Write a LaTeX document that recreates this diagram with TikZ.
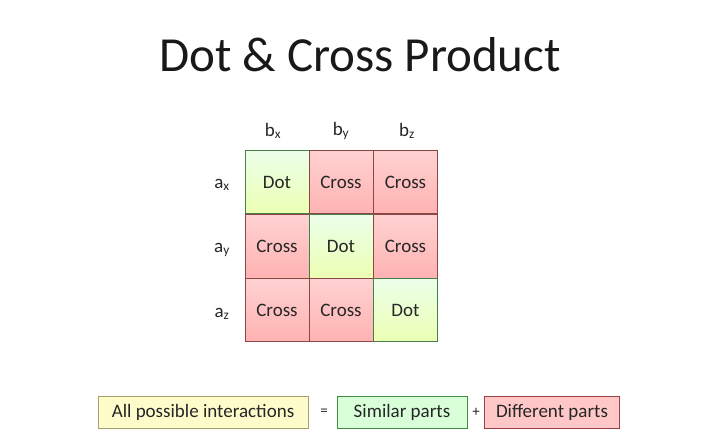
\documentclass[tikz,border=0pt]{standalone}
\usepackage{fontspec}
\setmainfont{Carlito}
\begin{document}
\begin{tikzpicture}[x=1pt,y=-1pt,
  cell/.style={draw=#1!45!gray,line width=0.8pt,minimum width=64pt,minimum height=63.5pt,font=\fontsize{19}{22}\selectfont,inner sep=0pt,text=black!85},
  gcell/.style={cell=green!50!black,top color=green!8!white,bottom color=green!25!yellow!30!white},
  rcell/.style={cell=red!60!black,top color=red!18!white,bottom color=red!30!white},
  lab/.style={font=\fontsize{19}{22}\selectfont,text=black!85},
  box/.style={draw=#1!50!gray,line width=0.6pt,minimum height=32pt,inner xsep=7pt,font=\fontsize{19}{22}\selectfont,text=black!85}]
\useasboundingbox (0,0) rectangle (720,434);
\node[font=\fontsize{49}{54}\selectfont,text=black!90] (title) at (360,55) {Dot \& Cross Product};
\node[gcell] (c11) at (277,182) {Dot};
\node[rcell] (c12) at (341,182) {Cross};
\node[rcell] (c13) at (405.5,182) {Cross};
\node[rcell] (c21) at (277,246.5) {Cross};
\node[gcell] (c22) at (341,246.5) {Dot};
\node[rcell] (c23) at (405.5,246.5) {Cross};
\node[rcell] (c31) at (277,310) {Cross};
\node[rcell] (c32) at (341,310) {Cross};
\node[gcell] (c33) at (405.5,310) {Dot};
\node[lab] (bx) at (273,131) {b$_{\mathrm x}$};
\node[lab] (by) at (341,131) {b$_{\mathrm y}$};
\node[lab] (bz) at (407,131) {b$_{\mathrm z}$};
\node[lab] (ax) at (222,185) {a$_{\mathrm x}$};
\node[lab] (ay) at (222,250) {a$_{\mathrm y}$};
\node[lab] (az) at (222,314) {a$_{\mathrm z}$};
\node[box=yellow!70!black,fill=yellow!20!white,minimum width=210pt] (all) at (203,412) {All possible interactions};
\node[lab,font=\fontsize{15}{17}\selectfont] (eq) at (324,412) {=};
\node[box=green!60!black,fill=green!15!white,minimum width=130pt] (sim) at (402,412) {Similar parts};
\node[lab,font=\fontsize{15}{17}\selectfont] (plus) at (476,412) {+};
\node[box=red!70!black,fill=red!22!white,minimum width=135pt] (diff) at (552,412) {Different parts};
\end{tikzpicture}
\end{document}
